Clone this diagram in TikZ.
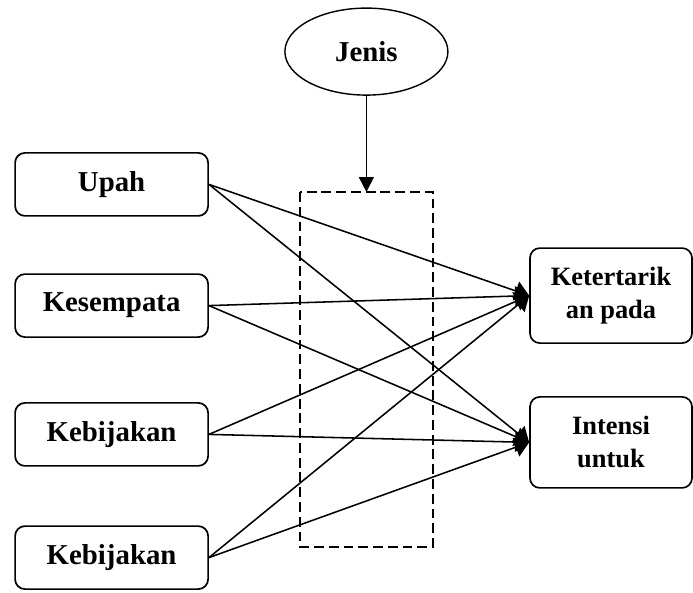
\documentclass[tikz,border=0pt]{standalone}
\usepackage{fontspec}
\setmainfont{Liberation Serif}
\usetikzlibrary{shapes.geometric, arrows.meta, positioning}

\begin{document}
\begin{tikzpicture}[
    var/.style={draw, line width=1.2pt, rounded corners=7pt, align=center,
      font=\bfseries\fontsize{20.5}{24}\selectfont,
      minimum width=4.825cm, minimum height=1.575cm, inner sep=0pt},
    dep/.style={var, font=\bfseries\fontsize{18.8}{23.5}\selectfont,
      minimum width=4.05cm},
    mod/.style={draw, ellipse, line width=1pt, inner sep=0pt,
      font=\bfseries\fontsize{20.5}{24}\selectfont,
      minimum width=4.075cm, minimum height=2.175cm}]
  \useasboundingbox (0,0) rectangle (17.325,14.8);

  \node (upah) [var] at (2.79,10.19) {Upah};
  \node (kes) [var] at (2.79,7.16) {Kesempata};
  \node (keb1) [var] at (2.79,3.94) {Kebijakan};
  \node (keb2) [var] at (2.79,0.86) {Kebijakan};
  \node (ket) [dep, minimum height=2.375cm] at (15.275,7.41) {Ketertarik\\an pada};
  \node (int) [dep, minimum height=2.275cm] at (15.275,3.74) {Intensi\\untuk};
  \node (jenis) [mod] at (9.16,13.51) {Jenis};

  % kotak moderasi
  \draw [dashed, dash pattern=on 7pt off 3.5pt, line width=1.2pt]
    (7.5,10.0) rectangle (10.825,1.125);
  \coordinate (box) at (9.16,10.0);

  \draw [-{Triangle[length=10.5pt, width=10.5pt]}, line width=1.1pt] (jenis) -- (box);

  \path [-{Triangle[length=10pt, width=14pt]}, line width=1.1pt]
    (upah.east) edge (ket.west)
    (upah.east) edge (int.west)
    (kes.east) edge (ket.west)
    (kes.east) edge (int.west)
    (keb1.east) edge (ket.west)
    (keb1.east) edge (int.west)
    (keb2.east) edge (ket.west)
    (keb2.east) edge (int.west);
\end{tikzpicture}
\end{document}
